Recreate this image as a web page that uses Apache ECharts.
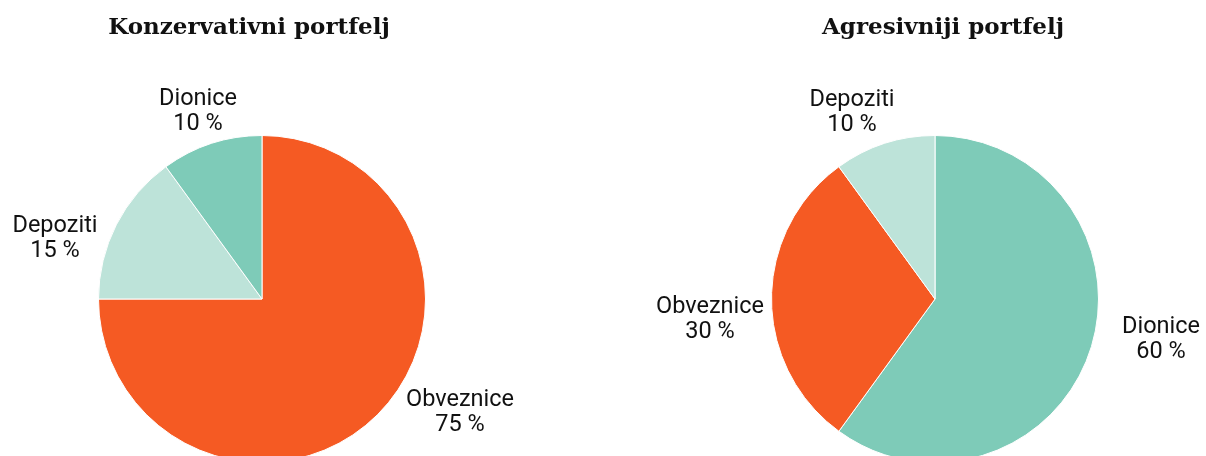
<!DOCTYPE html>
<html>
<head>
<meta charset="utf-8">
<script src="https://cdn.jsdelivr.net/npm/echarts@6/dist/echarts.min.js"></script>
<style>
html,body{margin:0;padding:0;background:#fff;}
#c{width:1206px;height:456px;}
</style>
</head>
<body>
<div id="c"></div>
<script>
// Data
const titles = ['Konzervativni portfelj', 'Agresivniji portfelj'];
const leftCategories = ['Obveznice', 'Depoziti', 'Dionice'];
const leftValues = [75, 15, 10];
const rightCategories = ['Dionice', 'Obveznice', 'Depoziti'];
const rightValues = [60, 30, 10];

const colorMap = { 'Obveznice': '#f55a23', 'Depoziti': '#bde3d9', 'Dionice': '#7ecbb8' };

// Layout (styling)
const pieCenters = [[262, 299], [935, 299]];
const pieRadius = 163.5;
const labelOffsets = [
  [[198, 114], [-207, -60], [-64, -187]],
  [[226, 41], [-225, 21], [-83, -186]]
];

function makeData(cats, vals) {
  return cats.map((c, i) => ({ name: c, value: vals[i], itemStyle: { color: colorMap[c] } }));
}

function makeSeries(idx, cats, vals) {
  return {
    type: 'pie',
    center: pieCenters[idx],
    radius: pieRadius,
    startAngle: 90,
    clockwise: true,
    animation: false,
    silent: true,
    avoidLabelOverlap: false,
    data: makeData(cats, vals),
    itemStyle: { borderColor: '#ffffff', borderWidth: 1 },
    label: {
      show: true,
      position: 'outside',
      formatter: '{b}\n{c} %',
      fontFamily: 'Roboto',
      fontSize: 23.5,
      lineHeight: 25,
      color: '#111111',
      overflow: 'none'
    },
    labelLine: { show: false },
    labelLayout: function (p) {
      const off = labelOffsets[idx][p.dataIndex];
      return {
        x: pieCenters[idx][0] + off[0],
        y: pieCenters[idx][1] + off[1],
        align: 'center',
        verticalAlign: 'middle'
      };
    }
  };
}

const chart = echarts.init(document.getElementById('c'), null, { renderer: 'canvas' });
chart.setOption({
  backgroundColor: '#ffffff',
  title: [
    { text: titles[0], left: 244, top: 12, textAlign: 'center',
      textStyle: { fontFamily: 'DejaVu Serif', fontWeight: 'bold', fontSize: 23, color: '#111' } },
    { text: titles[1], left: 938, top: 12, textAlign: 'center',
      textStyle: { fontFamily: 'DejaVu Serif', fontWeight: 'bold', fontSize: 23, color: '#111' } }
  ],
  series: [
    makeSeries(0, leftCategories, leftValues),
    makeSeries(1, rightCategories, rightValues)
  ]
});
</script>
</body>
</html>
